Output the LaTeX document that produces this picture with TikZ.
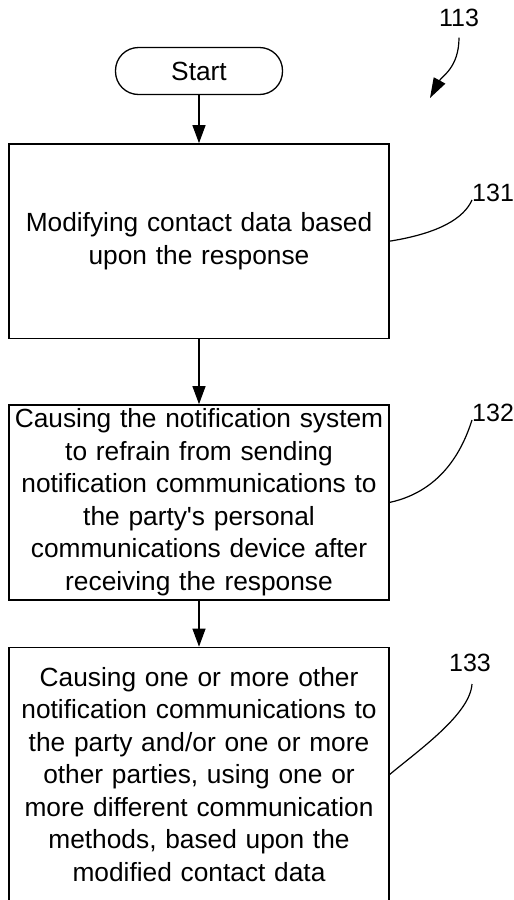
\documentclass[tikz,border=0pt]{standalone}
\usepackage{fontspec}
\setmainfont{Liberation Sans}[Ligatures=TeXOff]
\usetikzlibrary{arrows.meta, positioning}

\begin{document}
\begin{tikzpicture}[
    x=1pt, y=-1pt,
    terminal/.style={
        draw, line width=1.3pt, rounded corners=23pt,
        minimum width=167pt, minimum height=47pt,
        font=\fontsize{26.3}{32.5}\selectfont
    },
    process/.style={
        rectangle, draw, line width=1.5pt,
        text width=372pt, inner xsep=4pt, inner ysep=0pt, align=center,
        font=\fontsize{26.3}{32.5}\selectfont
    },
    arrow/.style={line width=1.2pt, -{Triangle[length=18pt,width=13pt]}},
    leader/.style={line width=1.2pt},
    reflabel/.style={font=\fontsize{25}{30}\selectfont, inner sep=0pt}
]
    \useasboundingbox (0,0) rectangle (514,900);
    % Nodes
    \node (start) [terminal] at (199,71) {Start};
    \node (step1) [process, below=48pt of start, minimum height=194.5pt]
        {Modifying contact data based\\upon the response};
    \node (step2) [process, below=65pt of step1, minimum height=195pt]
        {Causing the notification system\\to refrain from sending\\notification communications to\\the party's personal\\communications device after\\receiving the response};
    \node (step3) [process, below=46pt of step2, minimum height=254pt]
        {Causing one or more other\\notification communications to\\the party and/or one or more\\other parties, using one or\\more different communication\\methods, based upon the\\modified contact data};
    % Connections
    \draw [arrow] (start) -- (step1);
    \draw [arrow] (step1) -- (step2);
    \draw [arrow] (step2) -- (step3);
    % Labels
    \node (fig) [reflabel] at (459,17.5) {113};
    \coordinate (figtip) at (430,98);
    \draw [line width=1.2pt, -{Triangle[length=20pt,width=13pt]}]
        ([yshift=-11pt]fig.south) .. controls +(0,30) and +(12,-22) .. (figtip);
    \node (ref1) [reflabel, anchor=south west] at (472,202) {131};
    \node (ref2) [reflabel, anchor=south west] at (472,422) {132};
    \node (ref3) [reflabel, anchor=south] at (470,672) {133};
    \draw [leader] (step1.east) .. controls +(50,-8) and +(-8,18) .. ([yshift=2pt]ref1.south west);
    \draw [leader] (step2.east) .. controls +(55,-12) and +(-8,25) .. ([yshift=2pt]ref2.south west);
    \draw [leader] (step3.east) .. controls +(30,-25) and +(-2,30) .. ([xshift=2pt,yshift=-12pt]ref3.south);
\end{tikzpicture}
\end{document}
